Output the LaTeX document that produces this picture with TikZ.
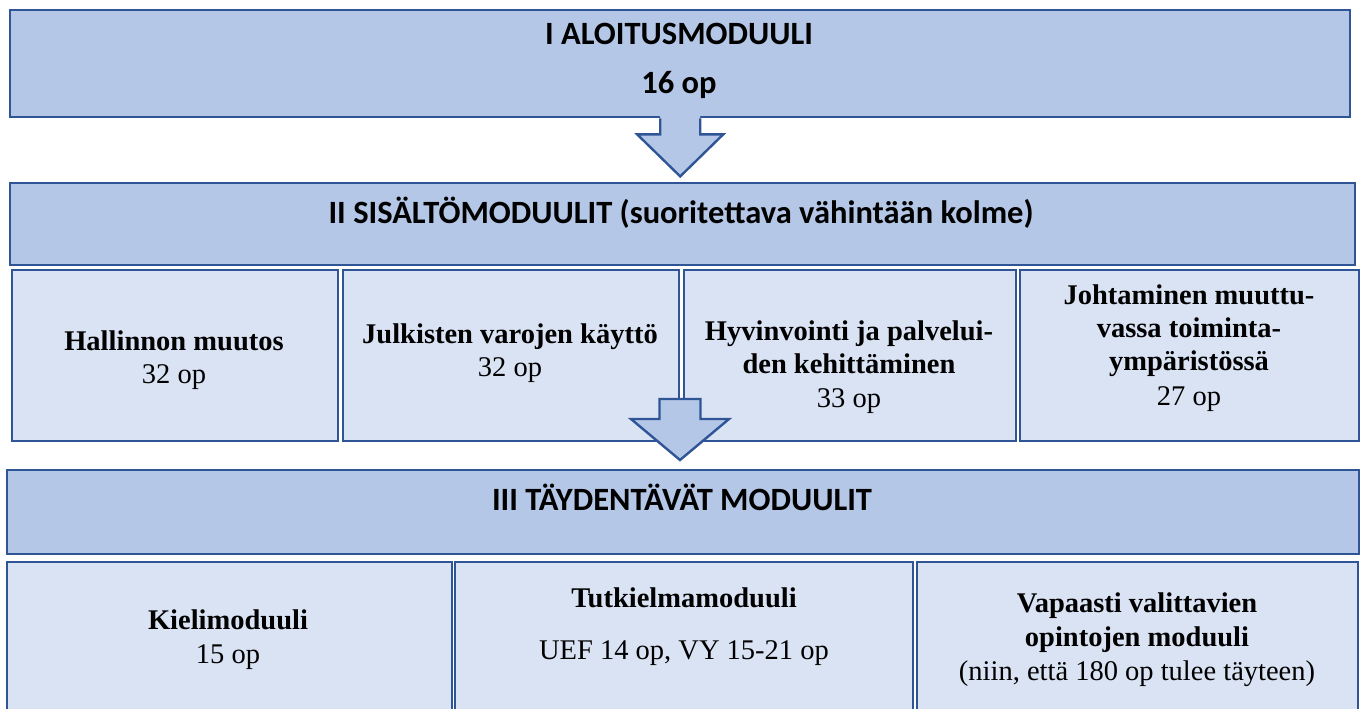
\documentclass[tikz,border=0pt]{standalone}
\usepackage{fontspec}
\setmainfont{Liberation Serif}
\newfontfamily\hdrfont{Carlito}
\usetikzlibrary{calc}
\definecolor{hdrfill}{HTML}{B4C7E7}
\definecolor{subfill}{HTML}{DAE3F3}
\definecolor{bord}{HTML}{2F5597}
\begin{document}
\begin{tikzpicture}[x=1pt,y=-1pt,
  box/.style={draw=bord, line width=2.4pt, anchor=north west, inner sep=0pt},
  hdrbox/.style={box, fill=hdrfill},
  subbox/.style={box, fill=subfill},
  hdrtxt/.style={font=\hdrfont\bfseries\fontsize{32.5}{38}\selectfont, inner sep=0pt, anchor=base, align=center},
  subtxt/.style={font=\fontsize{28.5}{33}\selectfont, inner sep=0pt, anchor=base, align=center},
  blkline/.style={draw=bord, line width=2.4pt, line join=miter}]
\useasboundingbox (0,0) rectangle (1360,709);

% I
\node[hdrbox, minimum width=1340pt, minimum height=107pt] (I) at (9,9) {};
% II
\node[hdrbox, minimum width=1345pt, minimum height=82pt] (II) at (9,182) {};
\node[subbox, minimum width=326pt, minimum height=171pt] (s1) at (11,269) {};
\node[subbox, minimum width=336pt, minimum height=171pt] (s2) at (342,269) {};
\node[subbox, minimum width=332pt, minimum height=171pt] (s3) at (683,269) {};
\node[subbox, minimum width=339pt, minimum height=171pt] (s4) at (1019,269) {};
% III
\node[hdrbox, minimum width=1352pt, minimum height=84pt] (III) at (6,469) {};
\node[subbox, minimum width=445pt, minimum height=150pt] (t1) at (6,561) {};
\node[subbox, minimum width=458pt, minimum height=150pt] (t2) at (454,561) {};
\node[subbox, minimum width=441pt, minimum height=150pt] (t3) at (916,561) {};

% arrow 1 (I -> II)
\fill[hdrfill] ($(I.south)+(-20,-3)$) -- ($(I.south)+(-20,16)$) -- ($(I.south)+(-43,16)$)
  -- ($(I.south)+(0,58)$) -- ($(I.south)+(43,16)$) -- ($(I.south)+(20,16)$) -- ($(I.south)+(20,-3)$) -- cycle;
\draw[blkline] ($(I.south)+(-20,0)$) -- ($(I.south)+(-20,16)$) -- ($(I.south)+(-43,16)$)
  -- ($(I.south)+(0,58)$) -- ($(I.south)+(43,16)$) -- ($(I.south)+(20,16)$) -- ($(I.south)+(20,0)$);

% arrow 2 (II -> III)
\coordinate (a2) at (680,399);
\draw[blkline, fill=hdrfill] ($(a2)+(-20.5,0)$) -- ($(a2)+(-20.5,20)$) -- ($(a2)+(-49,20)$)
  -- ($(a2)+(0,61)$) -- ($(a2)+(49,20)$) -- ($(a2)+(20.5,20)$) -- ($(a2)+(20.5,0)$) -- cycle;

% texts (anchor base = baseline of the last line)
\node[hdrtxt] (tI) at (679,93) {I ALOITUSMODUULI\\[11pt]16 op};
\node[hdrtxt] (tII) at (681,223) {II SISÄLTÖMODUULIT (suoritettava vähintään kolme)};
\node[hdrtxt] (tIII) at (682,510) {III TÄYDENTÄVÄT MODUULIT};

\node[subtxt] (ts1) at (174,383) {\textbf{Hallinnon muutos}\\32 op};
\node[subtxt] (ts2) at (510,376) {\textbf{Julkisten varojen käyttö}\\32 op};
\node[subtxt] (ts3) at (849,407) {\textbf{Hyvinvointi ja palvelui-}\\\textbf{den kehittäminen}\\[1pt]33 op};
\node[subtxt] (ts4) at (1189,405) {\textbf{Johtaminen muuttu-}\\\textbf{vassa toiminta-}\\\textbf{ympäristössä}\\[2pt]27 op};

\node[subtxt] (tt1) at (228,663) {\textbf{Kielimoduuli}\\[1pt]15 op};
\node[subtxt] (tt2) at (684,659) {\textbf{Tutkielmamoduuli}\\[19pt]UEF 14 op, VY 15-21 op};
\node[subtxt] (tt3) at (1137,680) {\textbf{Vapaasti valittavien}\\[1pt]\textbf{opintojen moduuli}\\[1pt](niin, että 180 op tulee täyteen)};
\end{tikzpicture}
\end{document}
